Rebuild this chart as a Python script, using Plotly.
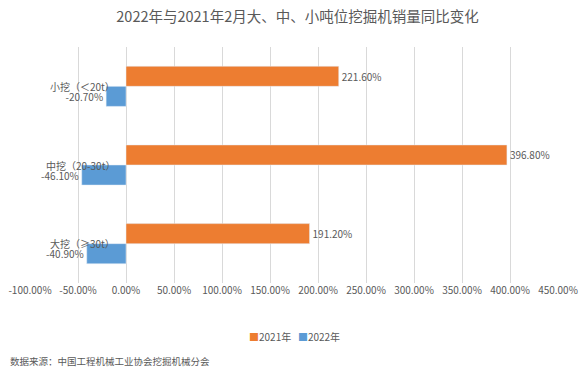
import plotly.graph_objects as go

categories = ["小挖（＜20t）", "中挖（20-30t）", "大挖（≥30t）"]
values_2021 = [221.6, 396.8, 191.2]
values_2022 = [-20.7, -46.1, -40.9]
series_names = ["2021年", "2022年"]
series_colors = ["#ED7D31", "#5B9BD5"]
tick_vals = [-100, -50, 0, 50, 100, 150, 200, 250, 300, 350, 400, 450]
tick_text = [f"{v:.2f}%" for v in tick_vals]

FONT = "Noto Sans CJK SC, Liberation Sans, sans-serif"
GRAY = "#595959"

fig = go.Figure()
for name, vals, col in zip(series_names, [values_2021, values_2022], series_colors):
    fig.add_trace(go.Bar(
        name=name, y=categories, x=vals, orientation="h",
        marker_color=col,
        text=[f"{v:.2f}%" for v in vals], textposition="outside",
        textfont=dict(size=10, color=GRAY, family=FONT), cliponaxis=False,
        showlegend=False,
    ))

for c in categories:
    fig.add_annotation(x=0, y=c, xref="x", yref="y", text=c, showarrow=False,
                       xanchor="right", yanchor="middle", xshift=-9,
                       font=dict(size=10, color=GRAY, family=FONT))

legend_text = "&nbsp;&nbsp;&nbsp;".join(
    f'<span style="color:{col}">■</span>{name}' for name, col in zip(series_names, series_colors))
fig.add_annotation(x=0.5, y=0, xref="paper", yref="paper", text=legend_text,
                   showarrow=False, xanchor="center", yanchor="middle", yshift=-53,
                   font=dict(size=10, color=GRAY, family=FONT))

fig.add_annotation(x=0, y=0, xref="paper", yref="paper", text="数据来源：中国工程机械工业协会挖掘机械分会",
                   showarrow=False, xanchor="left", yanchor="middle",
                   xshift=-22, yshift=-78, font=dict(size=9.5, color=GRAY, family=FONT))

# page body has an 8px margin, so the figure is sized/offset to compensate
fig.update_layout(
    width=579, height=366,
    margin=dict(l=22, r=29, t=39, b=91, autoexpand=False),
    paper_bgcolor="white", plot_bgcolor="white",
    barmode="group", bargap=0.49, bargroupgap=0,
    title=dict(text="2022年与2021年2月大、中、小吨位挖掘机销量同比变化",
               x=0.5, xanchor="center", y=0.976, yanchor="middle",
               font=dict(size=14.5, color=GRAY, family=FONT)),
    font=dict(family=FONT, color=GRAY),
    showlegend=False,
    xaxis=dict(range=[-100, 450], tickvals=tick_vals, ticktext=tick_text,
               showgrid=True, gridcolor="#D9D9D9", gridwidth=1,
               zeroline=True, zerolinecolor="#D9D9D9", zerolinewidth=1,
               showline=False, ticks="", tickfont=dict(size=10, color=GRAY, family=FONT)),
    yaxis=dict(autorange="reversed", showticklabels=False, showgrid=False,
               zeroline=False, showline=False, ticks=""),
)

fig.write_html("out.html")
